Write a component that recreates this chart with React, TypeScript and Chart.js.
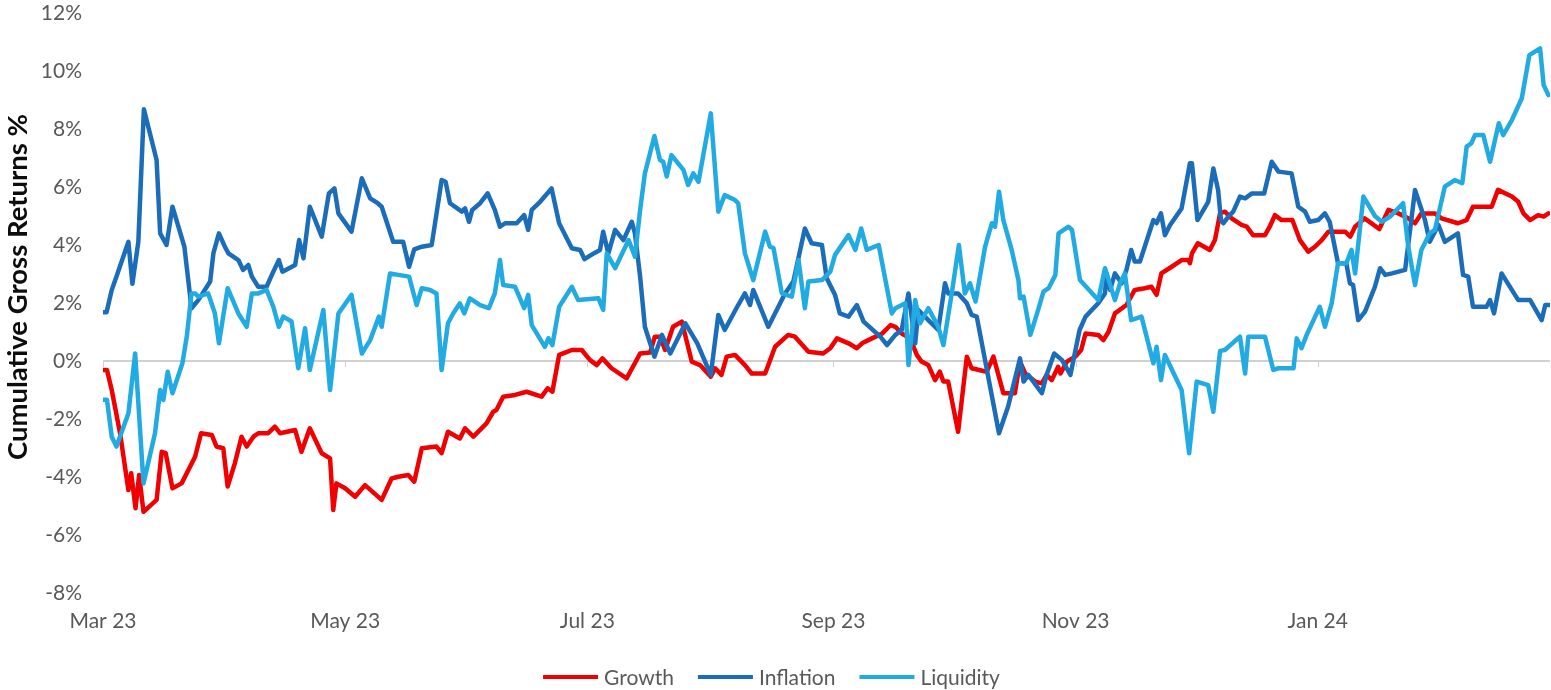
import React, { useEffect, useRef } from "react";
import { Chart, registerables } from "chart.js";

Chart.register(...registerables);

// x values are day offsets from 1 Mar 2023
const xTickDays = [0, 61, 122, 184, 245, 306];
const xTickLabels = ["Mar 23", "May 23", "Jul 23", "Sep 23", "Nov 23", "Jan 24"];
const yMin = -8;
const yMax = 12;
const yStep = 2;
const yTitle = "Cumulative Gross Returns %";
const seriesNames = ["Growth", "Inflation", "Liquidity"];
const seriesColors = ["#F00000", "#1B6DBA", "#22AAE2"];

const growth: [number, number][] = [
  [0, -0.31], [1, -0.31], [2.2, -1.0], [4.3, -2.49], [6.4, -4.45], [7.1, -3.87], [8.2, -5.08], [9.1, -3.93], [10.2, -5.2], [13.5, -4.79],
  [14.8, -3.13], [15.8, -3.18], [17.5, -4.39], [19.8, -4.22], [23.2, -3.3], [24.7, -2.49], [27.4, -2.55], [28.6, -2.95], [30.3, -3.01], [31.4, -4.33],
  [33.2, -3.53], [34.9, -2.61], [36.2, -2.95], [37.9, -2.61], [39.1, -2.49],
  [41.6, -2.49], [43.3, -2.26], [44.6, -2.49], [48.4, -2.38], [50, -3.13], [52.1, -2.32], [55.1, -3.18], [57.2, -3.36], [58, -5.14], [58.8, -4.22],
  [61, -4.39], [63.5, -4.68], [66, -4.28], [70.2, -4.79], [72.7, -4.05], [74.4, -3.99], [76.9, -3.93], [78.4, -4.16],
  [80.3, -3.01], [84, -2.95], [85.3, -3.18], [86.9, -2.44], [89.9, -2.67], [91.2, -2.32], [93.3, -2.61], [96.6, -2.15], [98.3, -1.75], [99.1, -1.69],
  [100.8, -1.23], [103.8, -1.17], [106.7, -1.06], [110.5, -1.23], [112, -0.94], [113.2, -1.06], [114.9, 0.21], [116.4, 0.29], [118.1, 0.38],
  [120.6, 0.38], [122.7, 0.03], [124.4, -0.14], [125.8, 0.09], [128.1, -0.25], [131.9, -0.6], [135.3, 0.26], [137.8, 0.29], [139, 0.84], [140.3, 0.84],
  [141.6, 0.38], [143.6, 1.18], [145.8, 1.36], [148.3, -0.02], [150.4, -0.14], [153.1, -0.54], [154.2, -0.25], [155.8, -0.48], [157.1, 0.15], [159.2, 0.21],
  [161.7, -0.14], [163.4, -0.43], [166.8, -0.43], [169.3, 0.49], [172.6, 0.9], [174.3, 0.84], [177.7, 0.32], [181.4, 0.26], [183.2, 0.44], [184.9, 0.78],
  [187.8, 0.61], [189.9, 0.44], [191.2, 0.61], [193.7, 0.78], [196.3, 0.95], [198.4, 1.24], [199.6, 1.18],
  [201.2, 0.95], [203.3, 0.78], [205, 0.21], [206.2, -0.02], [207.9, -0.14], [209.6, -0.66], [210.8, -0.37], [211.7, -0.71], [212.9, -0.71], [215.4, -2.44],
  [217.6, 0.15], [218.8, -0.25], [222.6, -0.37], [224.3, 0.15], [226.8, -1.11], [229.7, -1.11], [231, -0.02], [232.3, -0.43], [234.8, -0.71], [236.5, -0.77],
  [237.7, -0.48], [239, -0.66], [240.6, -0.2],
  [241.2, -0.43], [242.8, -0.02], [244.9, 0.15], [246.4, 0.38], [247.5, 0.95], [250.7, 0.9], [252, 0.72], [253.3, 1.01], [254.9, 1.64], [257.8, 1.93],
  [259.9, 2.45], [262.4, 2.51], [264.1, 2.56], [265.4, 2.28], [266.6, 3.02], [269.2, 3.25], [271.7, 3.48], [273.4, 3.48], [273.8, 3.37], [274.3, 3.71],
  [275.8, 4.06], [278.8, 3.83], [280.1, 4.17],
  [281.4, 5.1], [282.6, 5.15], [284.3, 4.92], [286.8, 4.69], [288.1, 4.63], [289.7, 4.34], [292.7, 4.34], [293.9, 4.63], [295.2, 5.03], [296.9, 4.86],
  [299.6, 4.86], [301.5, 4.17], [303.6, 3.77], [305.3, 3.94], [307, 4.17], [308.7, 4.46], [312.9, 4.46], [314.2, 4.29], [315.4, 4.63], [317.8, 4.92],
  [321.5, 4.55], [323.8, 5.21], [326.3, 5.09], [328.8, 4.92], [330.5, 4.75], [332.1, 5.09], [335.5, 5.09], [337.2, 4.92], [341.3, 4.75], [343.5, 4.86],
  [345.1, 5.32], [349.8, 5.32], [351.4, 5.9], [354.9, 5.67], [356.5, 5.49], [357.8, 5.09], [359.5, 4.86], [361.5, 5.03], [362.9, 4.98], [364.1, 5.09],
];

const inflation: [number, number][] = [
  [0, 1.68], [0.9, 1.68], [2.2, 2.45], [3.4, 2.91], [6.4, 4.11], [7.4, 2.66], [8.9, 4.11], [10.3, 8.68], [13.5, 6.93], [14.4, 4.4],
  [16, 4.0], [17.5, 5.32], [20.5, 3.94], [22.3, 1.82], [24, 2.1], [27, 2.74], [27.8, 3.71], [29.2, 4.4], [30.7, 3.94], [31.6, 3.71],
  [34.1, 3.48], [35.3, 3.14], [36.6, 3.31], [37.5, 2.91], [39.1, 2.56],
  [41.2, 2.56], [42.9, 3.08], [44.3, 3.48], [45.2, 3.08], [48.4, 3.31], [49.4, 4.17], [50.5, 3.54], [52.1, 5.32], [55.1, 4.29], [56.9, 5.78],
  [58.3, 5.95], [59.3, 5.09], [62.6, 4.46], [65.2, 6.3], [67.3, 5.61], [69.2, 5.44], [70.2, 5.32], [73.1, 4.11], [75.6, 4.11], [77.1, 3.25], [78.4, 3.85],
  [80.3, 3.94], [82.8, 4.0], [85.3, 6.24], [86.3, 6.18], [87.4, 5.44], [90.4, 5.15], [91.2, 5.26], [92.2, 4.8], [93, 5.21], [95, 5.44],
  [96.9, 5.78], [98.7, 5.21], [100, 4.63], [101.3, 4.75], [104.2, 4.75], [106.1, 5.03], [107.1, 4.52], [108, 5.21], [110.1, 5.49], [113, 5.95],
  [114.9, 4.75], [118.1, 3.89],
  [120.2, 3.83], [121.3, 3.51], [123.6, 3.71], [125.2, 3.83], [126, 4.46], [127.3, 3.71], [129, 4.52], [131.1, 4.17], [133.2, 4.8], [134, 4.4],
  [135.3, 2.91], [136.5, 1.18], [138.9, 0.15], [140.8, 0.9], [142.9, 0.26], [146.7, 1.3], [149.7, 0.61], [153.1, -0.48], [155, 1.59], [156.6, 1.07], [160, 1.93],
  [161.7, 2.33], [163, 1.93], [163.8, 2.45], [167.6, 1.18], [171.8, 2.33], [173.9, 2.74], [176.8, 4.57], [178.5, 4.06], [181.1, 4.0], [182.3, 2.85],
  [184.4, 2.28], [185.6, 1.64], [187.8, 1.53], [189.9, 1.93], [191.6, 1.36], [195.8, 0.84], [197.5, 0.55], [199.6, 0.9],
  [201.2, 1.07], [202.9, 2.33], [204.6, 0.61], [205.4, 1.76], [207.9, 1.41], [210.4, 1.07], [212.1, 2.68], [212.9, 2.33], [215.4, 2.33], [217.6, 1.99],
  [218.8, 1.59], [220.1, 1.53], [225.7, -2.49], [228, -1.57], [231, 0.09], [231.9, -0.71], [233.1, -0.48], [236.5, -1.11], [237.7, -0.48], [239.6, 0.26],
  [241.6, 0.03], [243.7, -0.48], [246, 1.07], [247.5, 1.53], [250.7, 1.99], [252.4, 2.33], [252.8, 3.02], [253.7, 2.45], [254.9, 3.02], [256.6, 2.68],
  [257.8, 3.14], [259, 3.83], [259.9, 3.43], [261.2, 3.43], [264.6, 4.86], [265.4, 4.75], [266.5, 5.09], [267.5, 4.34], [268.8, 4.69], [271.7, 5.26],
  [273.8, 6.82], [274.3, 6.82], [275.7, 4.86], [278.4, 5.49], [279.7, 6.64],
  [280.9, 5.9], [281.6, 4.86], [282.2, 4.75], [283.5, 4.98], [284.7, 5.15], [286.4, 5.67], [287.7, 5.61], [289.4, 5.78], [292.5, 5.78], [294.4, 6.87],
  [296.1, 6.53], [299.4, 6.47], [301.1, 5.32], [302.8, 5.15], [304, 4.8], [306.1, 4.86], [307.8, 5.09], [309, 4.8], [311.1, 3.37], [313.2, 3.37],
  [314.1, 2.68], [314.9, 2.62], [316.2, 1.41], [317.9, 1.7],
  [320.4, 2.56], [321.7, 3.2], [323, 2.97], [324.7, 3.02], [328, 3.14], [330.5, 5.9], [333, 4.86], [334.2, 4.11], [336.4, 4.69], [338, 4.11],
  [341.3, 4.4], [342.6, 2.97], [343.9, 2.91], [345.1, 1.87], [348.5, 1.87], [349.4, 2.1], [350.4, 1.64], [352.3, 3.02], [356.5, 2.1], [359.5, 2.1],
  [362.4, 1.41], [363.3, 1.93], [364.5, 1.93],
];

const liquidity: [number, number][] = [
  [0, -1.34], [1, -1.34], [2.2, -2.61], [3.4, -2.95], [6.4, -1.8], [8.1, 0.26], [10.2, -4.22], [13.1, -2.49], [14.4, -1.0], [15.2, -1.34],
  [16.3, -0.37], [17.5, -1.11], [20, -0.08], [21.1, 0.84], [22.3, 2.33], [23.2, 2.33], [24, 2.22], [26.5, 2.33], [28.2, 1.64], [29.2, 0.61],
  [31.4, 2.51], [34.1, 1.64], [36.2, 1.18], [37.5, 2.33], [39.1, 2.33],
  [41.2, 2.45], [42.9, 1.87], [44.3, 1.18], [45.4, 1.53], [47.5, 1.36], [49.2, -0.25], [50.9, 1.13], [52.1, -0.31], [55.5, 1.76], [57.2, -1.0],
  [59.3, 1.64], [62.6, 2.28], [65.2, 0.26], [67.3, 0.72], [69.5, 1.53], [70.2, 1.18], [72.3, 3.02], [74.4, 2.97], [77.1, 2.91], [79, 1.93],
  [80.3, 2.51], [82.4, 2.45], [84, 2.33], [85.3, -0.31], [86.9, 1.3], [88.2, 1.64], [89.9, 1.99], [91, 1.64], [92.4, 2.16], [95, 1.93],
  [97.2, 1.82], [98.7, 2.33], [100, 3.48], [100.8, 2.62], [103.8, 2.56], [106.1, 1.82], [107.1, 2.28], [108, 1.24], [111.3, 0.49], [112.2, 0.78],
  [113.2, 0.55], [114.9, 1.87], [118.1, 2.56],
  [119.7, 2.1], [124.8, 2.16], [126, 1.76], [126.9, 3.71], [129, 3.2], [132.4, 4.17], [134, 3.6], [135.3, 5.21], [136.5, 6.47], [138.9, 7.76],
  [140.3, 6.93], [141.1, 6.87], [142, 6.36], [143.2, 7.1], [146.2, 6.59], [147.4, 6.07], [148.7, 6.47], [150, 6.18], [153.1, 8.54], [155, 5.15],
  [156.6, 5.72], [159.2, 5.55],
  [160, 5.44], [161.7, 3.71], [163.8, 2.79], [166.8, 4.46], [168, 3.94], [168.9, 3.89], [171, 2.33], [173.5, 2.22], [175.2, 3.48], [176.8, 1.82],
  [177.7, 2.74], [181.1, 2.79], [183.2, 3.08], [184.4, 3.66], [187.8, 4.34], [189.5, 3.83], [191, 4.57], [192.4, 3.83], [195.4, 4.0], [198.7, 1.64],
  [199.6, 1.82], [202.1, 1.99], [202.9, -0.14], [204.6, 2.1], [205.8, 1.3], [207.9, 1.82], [210.4, 1.18], [211.7, 0.55], [213.8, 2.33], [215.6, 4.0],
  [217.1, 2.33], [218.4, 2.68], [219.8, 2.05], [222.2, 3.94], [223.9, 4.75], [224.7, 4.63], [225.7, 5.84], [226.8, 4.86], [228.9, 3.83], [230.6, 2.79],
  [231, 2.16], [231.9, 2.22], [233.6, 0.9], [235.3, 1.64], [236.9, 2.39], [238.2, 2.51], [239.9, 2.97],
  [240.7, 4.4], [243.2, 4.63], [244.1, 4.52], [246.1, 2.79], [250.7, 2.1], [252.4, 3.2], [254.9, 2.1], [256.2, 2.68], [257.4, 3.02], [259, 1.41],
  [261.6, 1.53], [264.6, -0.08], [265.4, 0.49], [266.5, -0.66], [267.5, 0.21], [271.7, -1.0], [273.6, -3.18], [275.5, -0.71], [278.4, -0.83], [279.7, -1.75],
  [281.4, 0.35], [282.6, 0.38], [286.4, 0.84], [287.7, -0.43], [288.5, 0.84], [292.7, 0.84], [294.8, -0.31], [296.1, -0.25], [299.9, -0.25], [300.7, 0.78],
  [301.9, 0.44], [303.2, 0.9], [306.5, 1.87], [307.8, 1.18], [309.5, 1.99], [311.1, 3.37], [313.2, 3.37], [314.5, 3.83], [315.4, 3.02], [317.5, 5.67],
  [320.4, 5.0], [322.1, 4.8], [324.2, 4.98], [327.5, 5.44], [328.8, 3.94], [330.5, 2.62], [332.1, 3.83], [334.2, 4.4], [335.5, 4.52], [338, 6.01],
  [340.5, 6.24], [342.4, 6.13], [343.5, 7.39], [344.7, 7.51], [345.6, 7.79], [347.7, 7.79], [349.4, 6.87], [351.6, 8.2], [352.7, 7.79], [354.9, 8.31],
  [357.4, 9.06], [359.3, 10.55], [362, 10.78], [362.9, 9.52], [364.1, 9.17],
];

const seriesData = [growth, inflation, liquidity];

const FONT = "Lato";
const TEXT_GREY = "#595959";

const overlayPlugin = {
  id: "overlay",
  beforeDatasetsDraw(chart: any) {
    const { ctx, scales } = chart;
    const x = scales.x;
    const y = scales.y;
    const y0 = y.getPixelForValue(0);
    ctx.save();
    ctx.strokeStyle = "#d0d0d0";
    ctx.lineWidth = 1;
    xTickDays.forEach((d) => {
      const px = Math.round(x.getPixelForValue(d)) + 0.5;
      ctx.beginPath();
      ctx.moveTo(px, y0);
      ctx.lineTo(px, y0 + 6);
      ctx.stroke();
    });
    ctx.restore();
  },
  afterDraw(chart: any) {
    const { ctx } = chart;
    // axis title
    ctx.save();
    ctx.translate(18, 287);
    ctx.rotate(-Math.PI / 2);
    ctx.font = `bold 27.5px ${FONT}`;
    ctx.fillStyle = "#0d0d0d";
    ctx.textAlign = "center";
    ctx.textBaseline = "middle";
    ctx.fillText(yTitle, 0, 0);
    ctx.restore();

    // legend
    ctx.save();
    ctx.font = `21px ${FONT}`;
    const lineW = 55;
    const gap = 6;
    const itemGap = 24;
    const items = chart.data.datasets.map((ds: any) => ({
      label: ds.label as string,
      color: ds.borderColor as string,
      w: ctx.measureText(ds.label).width,
    }));
    const total =
      items.reduce((s: number, it: any) => s + lineW + gap + it.w, 0) + itemGap * (items.length - 1);
    let cx = chart.width / 2 - 4 - total / 2;
    const cy = 677;
    ctx.textBaseline = "middle";
    ctx.textAlign = "left";
    items.forEach((it: any) => {
      ctx.fillStyle = it.color;
      ctx.fillRect(cx, cy - 2, lineW, 4);
      cx += lineW + gap;
      ctx.fillStyle = TEXT_GREY;
      ctx.fillText(it.label, cx, cy + 1);
      cx += it.w + itemGap;
    });
    ctx.restore();
  },
};

export default function App() {
  const canvasRef = useRef<HTMLCanvasElement | null>(null);

  useEffect(() => {
    if (!canvasRef.current) return;
    const orders = [2, 1, 0];
    const chart = new Chart(canvasRef.current, {
      type: "line",
      data: {
        datasets: seriesNames.map((name, i) => ({
          label: name,
          data: seriesData[i].map(([d, v]) => ({ x: d, y: v })),
          borderColor: seriesColors[i],
          backgroundColor: seriesColors[i],
          borderWidth: 4.5,
          pointRadius: 0,
          tension: 0,
          borderJoinStyle: "round" as const,
          borderCapStyle: "round" as const,
          fill: false,
          order: orders[i],
        })),
      },
      options: {
        animation: false,
        responsive: false,
        devicePixelRatio: 1,
        events: [],
        layout: { padding: { top: 13, right: 1, bottom: 0, left: 0 } },
        plugins: {
          legend: { display: false },
          tooltip: { enabled: false },
          title: { display: false },
        },
        scales: {
          x: {
            type: "linear",
            min: 0,
            max: 364.5,
            afterBuildTicks: (scale: any) => {
              scale.ticks = xTickDays.map((value) => ({ value }));
            },
            afterFit: (scale: any) => {
              scale.height = 97;
            },
            ticks: {
              autoSkip: false,
              maxRotation: 0,
              padding: 16,
              color: TEXT_GREY,
              font: { family: FONT, size: 21 },
              callback: (_v: any, i: number) => xTickLabels[i],
            },
            grid: { display: false, drawTicks: false },
            border: { display: false },
          },
          y: {
            type: "linear",
            min: yMin,
            max: yMax,
            afterFit: (scale: any) => {
              scale.width = 103;
              scale.paddingTop = 0;
              scale.paddingBottom = 0;
            },
            ticks: {
              stepSize: yStep,
              padding: 21,
              color: TEXT_GREY,
              font: { family: FONT, size: 21 },
              callback: (v: any) => `${v}%`,
            },
            grid: {
              drawTicks: false,
              lineWidth: 2,
              color: (ctx: any) => (ctx.tick && ctx.tick.value === 0 ? "#d0d0d0" : "rgba(0,0,0,0)"),
            },
            border: { display: false },
          },
        },
      },
      plugins: [overlayPlugin],
    } as any);
    return () => chart.destroy();
  }, []);

  return (
    <div style={{ position: "absolute", left: 0, top: 0, width: 1551, height: 690, background: "#fff" }}>
      <canvas ref={canvasRef} width={1551} height={690} style={{ display: "block" }} />
    </div>
  );
}
